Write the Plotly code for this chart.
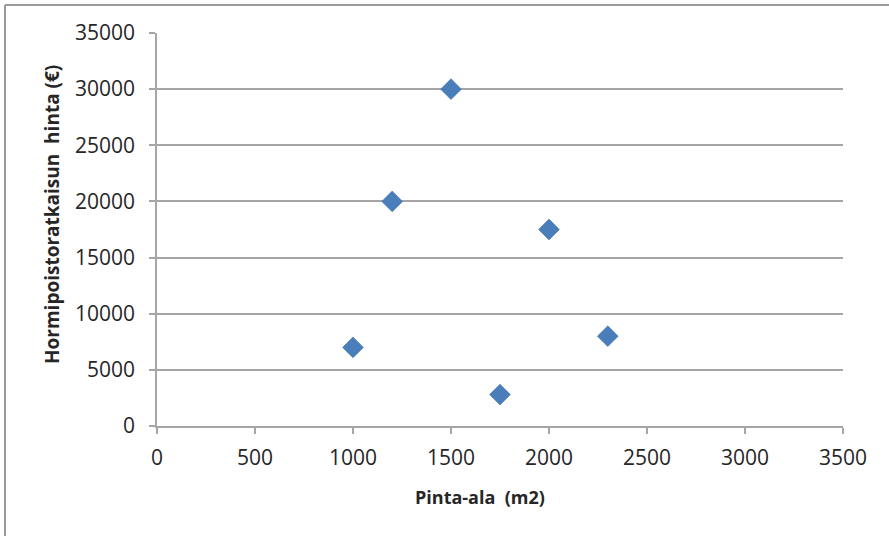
import plotly.graph_objects as go

area = [1000, 1200, 1500, 1750, 2000, 2300]
price = [7000, 20000, 30000, 2800, 17500, 8000]
x_ticks = [0, 500, 1000, 1500, 2000, 2500, 3000, 3500]
y_ticks = [0, 5000, 10000, 15000, 20000, 25000, 30000, 35000]
x_title = "Pinta-ala\u00a0 (m2)"
y_title = "Hormipoistoratkaisun\u00a0 hinta (€)"

grid = "#a6a6a6"
font_family = "Open Sans, Liberation Sans, sans-serif"

fig = go.Figure(go.Scatter(
    x=area, y=price, mode="markers",
    marker=dict(symbol="diamond", size=16, color="#4a7ebb",
                line=dict(color="#3f72ad", width=0.6)),
    showlegend=False,
))

fig.update_layout(
    width=889, height=536,
    margin=dict(l=157, r=46, t=33, b=110),
    paper_bgcolor="white", plot_bgcolor="white",
    font=dict(family=font_family, color="#262626"),
    xaxis=dict(range=[0, 3500], tickvals=x_ticks,
               ticktext=[str(v) for v in x_ticks], showgrid=False,
               showline=True, linecolor=grid, linewidth=1.5,
               ticks="outside", ticklen=6, tickcolor=grid, tickwidth=1.5,
               tickfont=dict(size=21), ticklabelstandoff=6, zeroline=False,
               fixedrange=True),
    yaxis=dict(range=[0, 35000], tickvals=y_ticks,
               ticktext=[str(v) for v in y_ticks], showgrid=True,
               gridcolor=grid, gridwidth=1.5,
               showline=True, linecolor=grid, linewidth=1.5,
               ticks="outside", ticklen=6, tickcolor=grid, tickwidth=1.5,
               tickfont=dict(size=21), ticklabelstandoff=10, zeroline=False,
               fixedrange=True),
    annotations=[
        dict(text=f"<b>{x_title}</b>", xref="paper", yref="paper",
             x=(480 - 157) / 686, y=-(497 - 426) / 393, xanchor="center",
             yanchor="middle", showarrow=False, font=dict(size=18)),
        dict(text=f"<b>{y_title}</b>", xref="paper", yref="paper",
             x=-(157 - 52) / 686, y=(426 - 215) / 393, xanchor="center",
             yanchor="middle", textangle=-90, showarrow=False,
             font=dict(size=19)),
    ],
    shapes=[
        dict(type="line", xref="paper", yref="paper",
             x0=-(157 - 5) / 686, x1=(889 - 157) / 686,
             y0=(426 - 5) / 393, y1=(426 - 5) / 393,
             line=dict(color="#9a9a9a", width=2)),
        dict(type="line", xref="paper", yref="paper",
             x0=-(157 - 5) / 686, x1=-(157 - 5) / 686,
             y0=(426 - 5) / 393, y1=-(536 - 426) / 393,
             line=dict(color="#9a9a9a", width=2)),
    ],
)

fig.write_html("out.html")
